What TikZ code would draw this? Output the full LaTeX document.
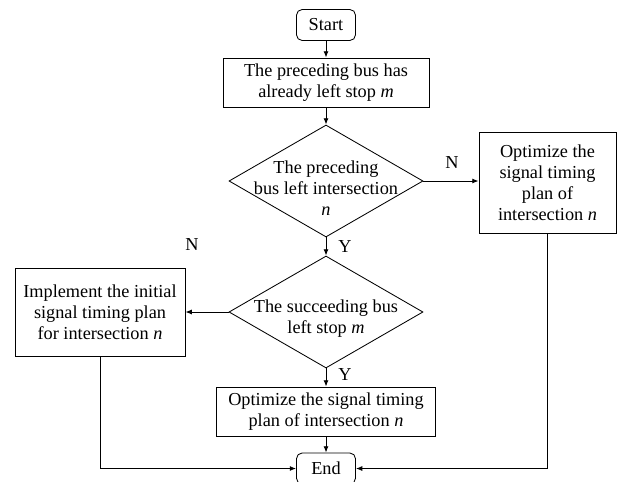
\documentclass[tikz,border=0pt,12pt]{standalone}
\usepackage{fontspec}
\setmainfont{Liberation Serif}
\usetikzlibrary{shapes.geometric,arrows.meta}

\begin{document}
\begin{tikzpicture}[
  font=\fontsize{13}{15}\selectfont,
  line width=0.6pt,
  arr/.style={-{Latex[length=4.5pt,width=3.5pt]}},
  term/.style={draw, rounded corners=4pt, minimum width=1.475cm, minimum height=0.775cm},
  proc/.style={draw, align=center, inner sep=0pt},
  dec/.style={draw, diamond, inner sep=0pt, minimum width=4.85cm, minimum height=2.8cm},
  lbl/.style={inner sep=0pt}
]
  \useasboundingbox (0,0) rectangle (15.5,12.025);

  \node[term] (start) at (8.15,11.4) {Start};
  \node[proc, minimum width=5.15cm, minimum height=1.225cm] (left) at (8.15,9.9625)
    {The preceding bus has\\already left stop \textit{m}};
  \node[dec, label={[align=center, yshift=-0.17cm]center:The preceding\\bus left intersection\\\textit{n}}]
    (dec1) at (8.15,7.5) {};
  \node[proc, minimum width=3.425cm, minimum height=2.525cm] (optR) at (13.6875,7.4625)
    {Optimize the\\signal timing\\plan of\\intersection \textit{n}};
  \node[dec, label={[align=center, yshift=-0.17cm]center:The succeeding bus\\left stop \textit{m}}]
    (dec2) at (8.15,4.225) {};
  \node[proc, minimum width=4.25cm, minimum height=2.2cm] (init) at (2.5,4.225)
    {Implement the initial\\signal timing plan\\for intersection \textit{n}};
  \node[proc, minimum width=5.475cm, minimum height=1.225cm] (optB) at (8.15,1.7375)
    {Optimize the signal timing\\plan of intersection \textit{n}};
  \node[term] (end) at (8.15,0.3125) {End};

  % branch labels
  \node[lbl] (n1) at (11.3,7.95) {N};
  \node[lbl] (y1) at (8.625,5.85) {Y};
  \node[lbl] (n2) at (4.8,5.9) {N};
  \node[lbl] (y2) at (8.625,2.65) {Y};

  \draw[arr] (start) -- (left);
  \draw[arr] (left) -- (dec1);
  \draw[arr] (dec1) -- (dec2);
  \draw[arr] (dec1.east) -- (optR.west |- dec1.east);
  \draw[arr] (dec2.west) -- (init.east |- dec2.west);
  \draw[arr] (dec2) -- (optB);
  \draw[arr] (optB) -- (end);
  \draw[arr] (init.south) |- (end.west);
  \draw[arr] (optR.south) |- (end.east);

\end{tikzpicture}
\end{document}
